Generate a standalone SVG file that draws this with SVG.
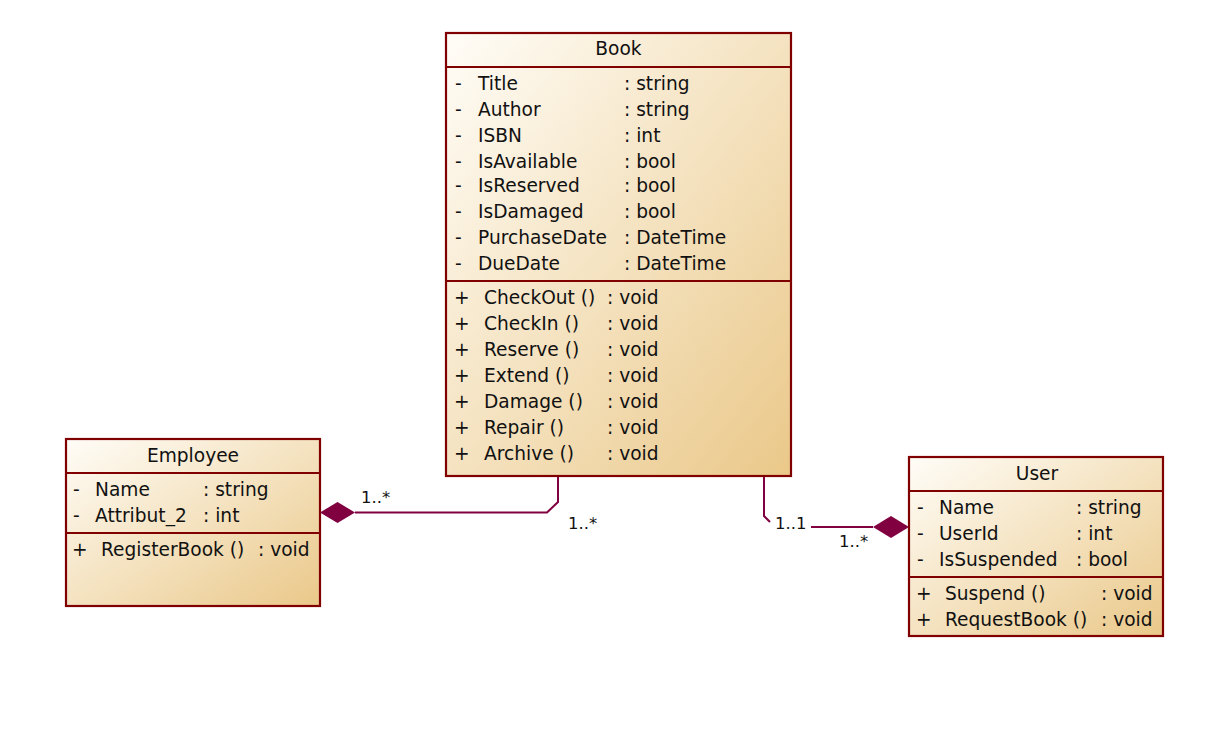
<svg xmlns="http://www.w3.org/2000/svg" width="1217" height="747" viewBox="0 0 1217 747">
<defs>
<linearGradient id="g" x1="0" y1="0" x2="1" y2="1">
<stop offset="0" stop-color="#FFFDF8"/>
<stop offset="1" stop-color="#EAC889"/>
</linearGradient>
</defs>
<style>
.box{fill:url(#g);stroke:#800000;stroke-width:2.2}
.sep{stroke:#800000;stroke-width:2.2}
text{font-family:"DejaVu Sans",Verdana,sans-serif;font-size:18.6px;fill:#111}
.t{text-anchor:middle}
.lbl{font-size:16.5px}
.con{fill:none;stroke:#800040;stroke-width:2}
.dia{fill:#800040;stroke:none}
</style>
<rect width="1217" height="747" fill="#fff"/>
<g id="Book">
<rect class="box" x="446" y="33" width="345" height="443"/>
<line class="sep" x1="446" y1="67" x2="791" y2="67"/>
<line class="sep" x1="446" y1="281" x2="791" y2="281"/>
<text class="t" x="618.5" y="55">Book</text>
<text x="455" y="90">-</text><text x="478" y="90">Title</text><text x="624" y="90">: string</text>
<text x="455" y="116">-</text><text x="478" y="116">Author</text><text x="624" y="116">: string</text>
<text x="455" y="142">-</text><text x="478" y="142">ISBN</text><text x="624" y="142">: int</text>
<text x="455" y="168">-</text><text x="478" y="168">IsAvailable</text><text x="624" y="168">: bool</text>
<text x="455" y="192">-</text><text x="478" y="192">IsReserved</text><text x="624" y="192">: bool</text>
<text x="455" y="218">-</text><text x="478" y="218">IsDamaged</text><text x="624" y="218">: bool</text>
<text x="455" y="244">-</text><text x="478" y="244">PurchaseDate</text><text x="624" y="244">: DateTime</text>
<text x="455" y="270">-</text><text x="478" y="270">DueDate</text><text x="624" y="270">: DateTime</text>
<text x="454" y="304">+</text><text x="484" y="304">CheckOut ()</text><text x="607" y="304">: void</text>
<text x="454" y="330">+</text><text x="484" y="330">CheckIn ()</text><text x="607" y="330">: void</text>
<text x="454" y="356">+</text><text x="484" y="356">Reserve ()</text><text x="607" y="356">: void</text>
<text x="454" y="382">+</text><text x="484" y="382">Extend ()</text><text x="607" y="382">: void</text>
<text x="454" y="408">+</text><text x="484" y="408">Damage ()</text><text x="607" y="408">: void</text>
<text x="454" y="434">+</text><text x="484" y="434">Repair ()</text><text x="607" y="434">: void</text>
<text x="454" y="460">+</text><text x="484" y="460">Archive ()</text><text x="607" y="460">: void</text>
</g>
<g id="Employee">
<rect class="box" x="66" y="439" width="254" height="167"/>
<line class="sep" x1="66" y1="473" x2="320" y2="473"/>
<line class="sep" x1="66" y1="533" x2="320" y2="533"/>
<text class="t" x="193" y="462">Employee</text>
<text x="73" y="496">-</text><text x="95" y="496">Name</text><text x="203" y="496">: string</text>
<text x="73" y="522">-</text><text x="95" y="522">Attribut_2</text><text x="203" y="522">: int</text>
<text x="72" y="556">+</text><text x="101" y="556">RegisterBook ()</text><text x="258" y="556">: void</text>
</g>
<g id="User">
<rect class="box" x="909" y="457" width="254" height="179"/>
<line class="sep" x1="909" y1="491" x2="1163" y2="491"/>
<line class="sep" x1="909" y1="577" x2="1163" y2="577"/>
<text class="t" x="1037" y="480">User</text>
<text x="917" y="514">-</text><text x="939" y="514">Name</text><text x="1076" y="514">: string</text>
<text x="917" y="540">-</text><text x="939" y="540">UserId</text><text x="1076" y="540">: int</text>
<text x="917" y="566">-</text><text x="939" y="566">IsSuspended</text><text x="1076" y="566">: bool</text>
<text x="916" y="600">+</text><text x="945" y="600">Suspend ()</text><text x="1101" y="600">: void</text>
<text x="916" y="626">+</text><text x="945" y="626">RequestBook ()</text><text x="1101" y="626">: void</text>
</g>
<g id="connectors">
<path class="con" d="M558,477 V502 L547,512.5 H355"/>
<polygon class="dia" points="320,512.5 337.5,502 355,512.5 337.5,523"/>
<text class="lbl" x="361" y="503">1..*</text>
<text class="lbl" x="568" y="529">1..*</text>
<path class="con" d="M764,477 V516 L770,522 M811,527 H873"/>
<polygon class="dia" points="873,527 891,516 909,527 891,538"/>
<text class="lbl" x="775" y="529">1..1</text>
<text class="lbl" x="839" y="547">1..*</text>
</g>
</svg>
